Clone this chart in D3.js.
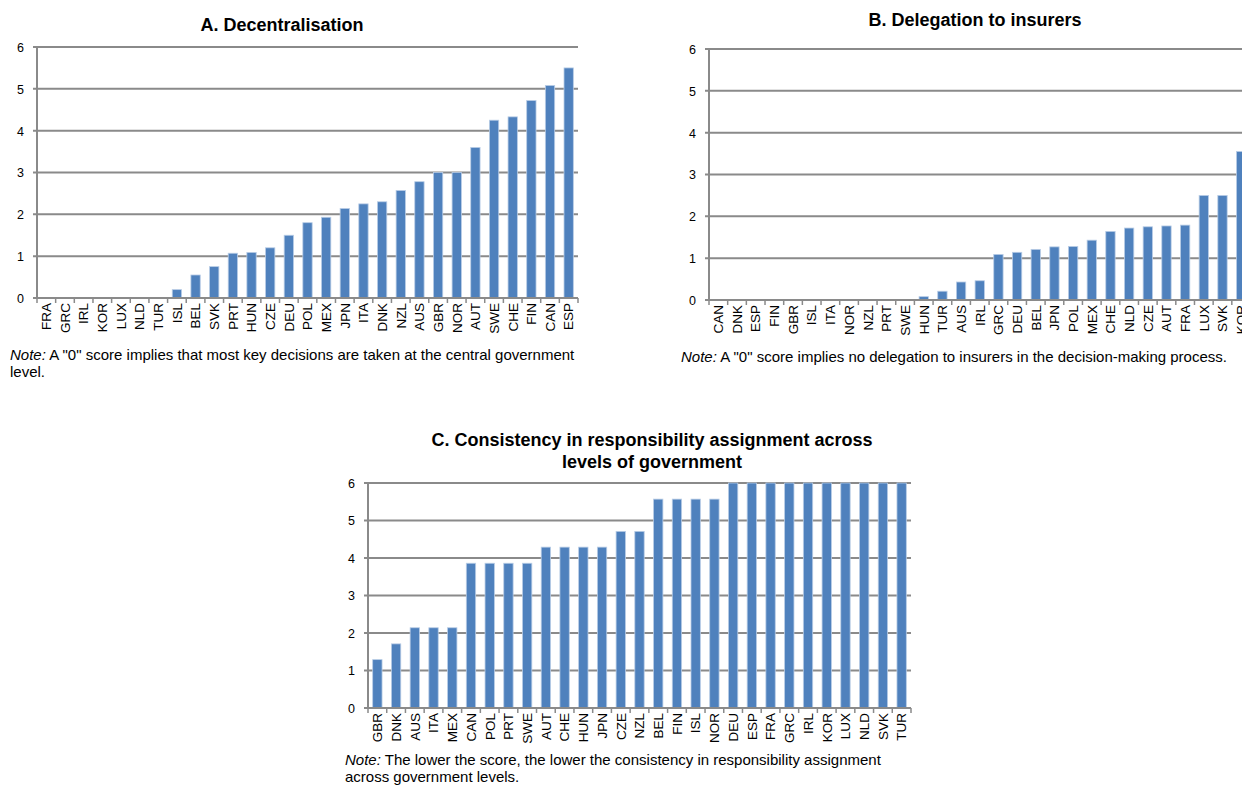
<!DOCTYPE html>
<html><head><meta charset="utf-8">
<script src="https://cdn.jsdelivr.net/npm/d3@7"></script>
<style>
html,body{margin:0;padding:0;background:#fff;overflow:hidden;}
svg{display:block;font-family:"Liberation Sans",Arial,sans-serif;}
</style></head>
<body>
<svg id="chart" width="1242" height="794"></svg>
<script>
const catsA = ["FRA","GRC","IRL","KOR","LUX","NLD","TUR","ISL","BEL","SVK","PRT","HUN","CZE","DEU","POL","MEX","JPN","ITA","DNK","NZL","AUS","GBR","NOR","AUT","SWE","CHE","FIN","CAN","ESP"];
const valsA = [0,0,0,0,0,0,0,0.2,0.55,0.75,1.07,1.09,1.2,1.5,1.8,1.93,2.14,2.25,2.3,2.57,2.78,3.0,3.0,3.6,4.25,4.33,4.72,5.08,5.5];

const catsB = ["CAN","DNK","ESP","FIN","GBR","ISL","ITA","NOR","NZL","PRT","SWE","HUN","TUR","AUS","IRL","GRC","DEU","BEL","JPN","POL","MEX","CHE","NLD","CZE","AUT","FRA","LUX","SVK","KOR"];
const valsB = [0,0,0,0,0,0,0,0,0,0,0,0.08,0.21,0.43,0.46,1.09,1.14,1.21,1.27,1.28,1.43,1.64,1.72,1.75,1.77,1.79,2.5,2.5,3.55];

const catsC = ["GBR","DNK","AUS","ITA","MEX","CAN","POL","PRT","SWE","AUT","CHE","HUN","JPN","CZE","NZL","BEL","FIN","ISL","NOR","DEU","ESP","FRA","GRC","IRL","KOR","LUX","NLD","SVK","TUR"];
const valsC = [1.29,1.71,2.14,2.14,2.14,3.86,3.86,3.86,3.86,4.29,4.29,4.29,4.29,4.71,4.71,5.57,5.57,5.57,5.57,6,6,6,6,6,6,6,6,6,6];

const yTicks = [0,1,2,3,4,5,6];

const titleA = ["A. Decentralisation"];
const titleB = ["B. Delegation to insurers"];
const titleC = ["C. Consistency in responsibility assignment across","levels of government"];
const noteA = [" A \"0\" score implies that most key decisions are taken at the central government","level."];
const noteB = [" A \"0\" score implies no delegation to insurers in the decision-making process."];
const noteC = [" The lower the score, the lower the consistency in responsibility assignment","across government levels."];

const svg = d3.select("#chart");
const GRID = "#8a8a8a", BAR = "#4F81BD";

function panel(cfg){
  const g = svg.append("g");
  const x = d3.scaleBand().domain(cfg.cats).range([cfg.x0, cfg.x1]).paddingInner(0.5).paddingOuter(0.25);
  const xb = d3.scaleBand().domain(cfg.cats).range([cfg.x0, cfg.x1]);
  const y = d3.scaleLinear().domain([0,6]).range([cfg.y0, cfg.y1]);
  g.selectAll(".grid").data(yTicks.filter(d=>d>0)).join("line")
    .attr("x1", cfg.x0-4).attr("x2", cfg.x1).attr("y1", d=>y(d)).attr("y2", d=>y(d))
    .attr("stroke", GRID).attr("stroke-width", 2);
  const ya = d3.axisLeft(y).tickValues(yTicks).tickSize(0).tickPadding(0).tickFormat(d3.format("d"));
  const yg = g.append("g").attr("transform", `translate(${cfg.x0-13},0)`).call(ya);
  yg.select(".domain").remove();
  yg.selectAll("text").attr("font-size", 12.5).attr("fill", "#000").attr("font-family","Liberation Sans, Arial, sans-serif").attr("dy","0.35em");
  g.append("line").attr("x1", cfg.x0).attr("x2", cfg.x0).attr("y1", cfg.y1).attr("y2", cfg.y0)
    .attr("stroke", GRID).attr("stroke-width", 2);
  g.selectAll(".bar").data(cfg.cats.map((c,i)=>({c, v:cfg.vals[i]}))).join("rect")
    .attr("x", d=>x(d.c)).attr("width", x.bandwidth())
    .attr("y", d=>y(d.v)).attr("height", d=>cfg.y0 - y(d.v))
    .attr("fill", BAR).attr("stroke", "#b9cde6").attr("stroke-width", 0.8);
  g.append("line").attr("x1", cfg.x0-4).attr("x2", cfg.x1).attr("y1", cfg.y0).attr("y2", cfg.y0)
    .attr("stroke", GRID).attr("stroke-width", 2);
  const edges = cfg.cats.map(c=>xb(c)).concat([cfg.x1]);
  g.selectAll(".xt").data(edges).join("line")
    .attr("x1", d=>d).attr("x2", d=>d).attr("y1", cfg.y0).attr("y2", cfg.y0+5)
    .attr("stroke", GRID).attr("stroke-width", 1.5);
  g.selectAll(".xl").data(cfg.cats).join("text")
    .attr("transform", d=>`translate(${xb(d)+xb.bandwidth()/2+4.8},${cfg.y0+5}) rotate(-90)`)
    .attr("text-anchor","end").attr("font-size", 13.5).attr("fill","#000")
    .text(d=>d);
  const t = g.append("text").attr("text-anchor","middle").attr("font-weight","bold").attr("font-size",18).attr("fill","#000");
  cfg.title.forEach((s,i)=>t.append("tspan").attr("x", cfg.tx).attr("y", cfg.ty + i*22).text(s));
  cfg.note.forEach((s,i)=>{
    const n = g.append("text").attr("x", cfg.nx).attr("y", cfg.ny + i*16.5).attr("font-size",15).attr("fill","#000");
    if(i===0){ n.append("tspan").attr("font-style","italic").text("Note:"); n.append("tspan").text(s); }
    else n.text(s);
  });
}

panel({cats:catsA, vals:valsA, x0:37, x1:578, y0:298, y1:47, title:titleA, tx:282, ty:31, note:noteA, nx:10, ny:360});
panel({cats:catsB, vals:valsB, x0:709, x1:1250.5, y0:300, y1:49, title:titleB, tx:975, ty:26, note:noteB, nx:681, ny:362});
panel({cats:catsC, vals:valsC, x0:368, x1:911, y0:708, y1:483, title:titleC, tx:652, ty:446, note:noteC, nx:345, ny:765});
</script>
</body></html>
